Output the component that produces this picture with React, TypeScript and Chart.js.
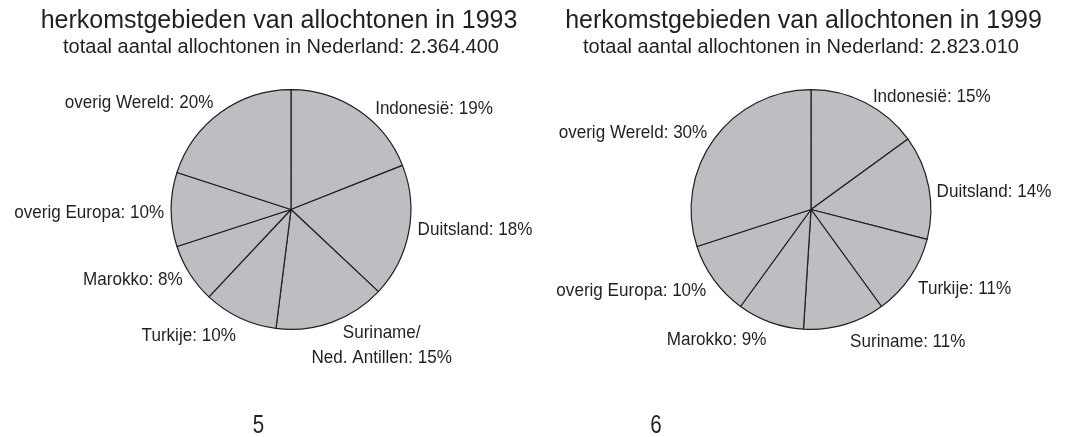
import React, { useEffect, useRef } from "react";
import { Chart, registerables } from "chart.js";

Chart.register(...registerables);

// ---------- data ----------
const categories1993: string[][] = [
  ["Indonesië"],
  ["Duitsland"],
  ["Suriname/", "Ned. Antillen"],
  ["Turkije"],
  ["Marokko"],
  ["overig Europa"],
  ["overig Wereld"],
];
const values1993: number[] = [19, 18, 15, 10, 8, 10, 20];

const categories1999: string[][] = [
  ["Indonesië"],
  ["Duitsland"],
  ["Turkije"],
  ["Suriname"],
  ["Marokko"],
  ["overig Europa"],
  ["overig Wereld"],
];
const values1999: number[] = [15, 14, 11, 11, 9, 10, 30];

const title1993 = "herkomstgebieden van allochtonen in 1993";
const subtitle1993 = "totaal aantal allochtonen in Nederland: 2.364.400";
const title1999 = "herkomstgebieden van allochtonen in 1999";
const subtitle1999 = "totaal aantal allochtonen in Nederland: 2.823.010";
const footer1993 = "5";
const footer1999 = "6";

// label fine-tuning (dx, dy) relative to the computed anchor of each slice
const nudges1993 = [[10, 7], [-3, -6], [46, -2], [1, 5], [3, -2], [5, 2], [0, -1]];
const nudges1999 = [[2, 3], [-4, 6], [-2, 4], [60, 4], [0, 5], [2, 2], [3, -1]];

const TEXT = "#231f20";
const FILL = "#bdbec1";
const FONT = '"Liberation Sans", Arial, Helvetica, sans-serif';

function drawText(
  ctx: CanvasRenderingContext2D,
  text: string,
  x: number,
  y: number,
  align: "left" | "right" | "center",
  size: number,
  sx: number
) {
  ctx.save();
  ctx.font = `${size}px ${FONT}`;
  ctx.fillStyle = TEXT;
  ctx.textAlign = "left";
  ctx.textBaseline = "alphabetic";
  const w = ctx.measureText(text).width * sx;
  const left = align === "left" ? x : align === "right" ? x - w : x - w / 2;
  ctx.translate(left, y);
  ctx.scale(sx, 1);
  ctx.fillText(text, 0, 0);
  ctx.restore();
}

const pieTextPlugin = {
  id: "pieText",
  afterDraw(chart: any, _args: any, opts: any) {
    const ctx: CanvasRenderingContext2D = chart.ctx;
    const meta = chart.getDatasetMeta(0);
    const cats: string[][] = opts.categories;
    const vals: number[] = opts.values;
    const nudges: number[][] = opts.nudges;
    const size = 18.6;
    const sx = 0.918;
    const cap = 0.716 * size;
    meta.data.forEach((arc: any, i: number) => {
      const p = arc.getProps(["x", "y", "startAngle", "endAngle", "outerRadius"], true);
      const mid = (p.startAngle + p.endAngle) / 2;
      const dx = Math.cos(mid);
      const dy = Math.sin(mid);
      const R = p.outerRadius + 12;
      const ax = p.x + dx * R + nudges[i][0];
      const ay = p.y + dy * R + nudges[i][1];
      const lines = cats[i].slice();
      lines[lines.length - 1] = `${lines[lines.length - 1]}: ${vals[i]}%`;
      let align: "left" | "right" | "center" = dx > 0.3 ? "left" : dx < -0.3 ? "right" : "center";
      if (lines.length > 1) align = "center";
      lines.forEach((ln, k) => {
        drawText(ctx, ln, ax, ay + cap / 2 + k * 25, align, size, sx);
      });
    });
    // titles
    drawText(ctx, opts.title, opts.titleX, 28, "center", 25, 1);
    drawText(ctx, opts.subtitle, opts.subtitleX, 53, "center", 20, 1);
    drawText(ctx, opts.footer, opts.footerX, 433, "center", 25, 0.82);
  },
};

function PieChart(props: {
  width: number;
  left: number;
  padding: { left: number; right: number; top: number; bottom: number };
  categories: string[][];
  values: number[];
  nudges: number[][];
  title: string;
  subtitle: string;
  titleX: number;
  subtitleX: number;
  footer: string;
  footerX: number;
}) {
  const ref = useRef<HTMLCanvasElement | null>(null);
  useEffect(() => {
    if (!ref.current) return;
    const chart = new Chart(ref.current, {
      type: "pie",
      data: {
        labels: props.categories.map((c) => c.join(" ")),
        datasets: [
          {
            data: props.values,
            backgroundColor: FILL,
            borderColor: TEXT,
            borderWidth: 1.2,
          },
        ],
      },
      options: {
        responsive: false,
        animation: false,
        events: [],
        layout: { padding: props.padding },
        plugins: {
          legend: { display: false },
          tooltip: { enabled: false },
          title: { display: false },
          pieText: {
            categories: props.categories,
            values: props.values,
            nudges: props.nudges,
            title: props.title,
            subtitle: props.subtitle,
            titleX: props.titleX,
            subtitleX: props.subtitleX,
            footer: props.footer,
            footerX: props.footerX,
          },
        } as any,
      },
      plugins: [pieTextPlugin as any],
    });
    return () => chart.destroy();
  }, []);
  return (
    <canvas
      ref={ref}
      width={props.width}
      height={437}
      style={{ position: "absolute", left: props.left, top: 0, width: props.width, height: 437 }}
    />
  );
}

export default function App() {
  return (
    <div style={{ position: "absolute", left: 0, top: 0, width: 1074, height: 437, background: "#fff" }}>
      <PieChart
        width={545}
        left={0}
        padding={{ left: 157, right: 120, top: 89, bottom: 107 }}
        categories={categories1993}
        values={values1993}
        nudges={nudges1993}
        title={title1993}
        subtitle={subtitle1993}
        titleX={279}
        subtitleX={281}
        footer={footer1993}
        footerX={258.5}
      />
      <PieChart
        width={529}
        left={545}
        padding={{ left: 132, right: 129, top: 89, bottom: 107 }}
        categories={categories1999}
        values={values1999}
        nudges={nudges1999}
        title={title1999}
        subtitle={subtitle1999}
        titleX={258.5}
        subtitleX={256}
        footer={footer1999}
        footerX={111}
      />
    </div>
  );
}
